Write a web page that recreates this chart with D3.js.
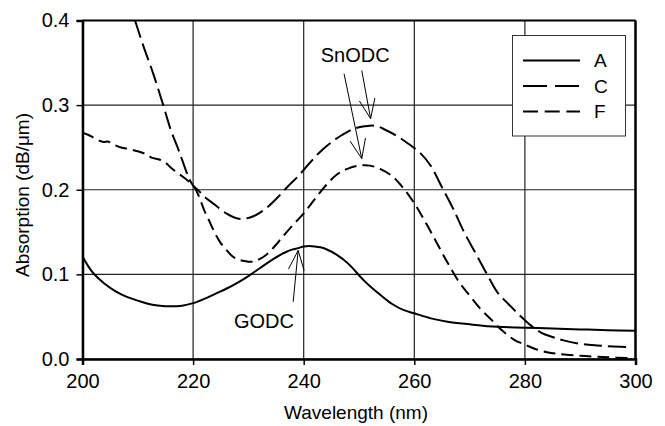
<!DOCTYPE html>
<html>
<head>
<meta charset="utf-8">
<script src="https://cdn.jsdelivr.net/npm/d3@7/dist/d3.min.js"></script>
<style>
  html, body { margin: 0; padding: 0; background: #fff; }
  svg { display: block; }
  text { font-family: "Liberation Sans", Arial, Helvetica, sans-serif; fill: #000; }
</style>
</head>
<body>
<svg id="chart" width="665" height="426"></svg>
<script>
// ---------- data ----------
const xTicks = [200, 220, 240, 260, 280, 300];
const yTicks = [0.0, 0.1, 0.2, 0.3, 0.4];
const xTickLabels = ["200", "220", "240", "260", "280", "300"];
const yTickLabels = ["0.0", "0.1", "0.2", "0.3", "0.4"];
const seriesNames = ["A", "C", "F"];

const aWave = [200,201,202,204,206,208,210,212,214,216,218,220,222,224,226,228,230,232,234,236,237,238,239,240,241,242,243,244,246,248,250,251,252,254,256,258,260,263,266,270,275,280,285,290,295,300];
const aAbs  = [0.121,0.110,0.101,0.089,0.080,0.0735,0.069,0.065,0.063,0.0623,0.063,0.066,0.071,0.077,0.083,0.090,0.098,0.107,0.116,0.124,0.127,0.1295,0.131,0.133,0.1335,0.133,0.132,0.130,0.123,0.113,0.099,0.092,0.086,0.075,0.065,0.058,0.054,0.048,0.044,0.041,0.038,0.037,0.036,0.035,0.034,0.0335];

const cWave = [209.5,211,212.8,214.6,216,217.2,218.2,219.1,220,221,222,224,226,228,229.5,231,233,235,237,239,241,243,245,247,249,251,253,255,257,259,261,263,265,267,269,271,273,275,277,279,281,283,285,287,290,293,296,299];
const cAbs  = [0.40,0.37,0.337,0.300,0.270,0.250,0.232,0.216,0.205,0.199,0.192,0.182,0.172,0.166,0.166,0.169,0.177,0.189,0.203,0.216,0.231,0.245,0.256,0.265,0.272,0.275,0.2755,0.270,0.263,0.254,0.244,0.228,0.203,0.178,0.150,0.126,0.102,0.079,0.065,0.052,0.040,0.031,0.026,0.022,0.018,0.016,0.0148,0.014];

const fWave = [200,201,202,203,203.8,204.6,205.6,207,208.5,210,211.5,212.5,214,215,216,217.6,219,220,221,222,223,224,225,226,227,228,229,230,231,232,233,234,235,236,238,240,242,244,246,248,250,252,254,256,258,260,262,264,266,268,270,272,274,276,278,280,282,284,286,290,295,299];
const fAbs  = [0.2675,0.265,0.2615,0.258,0.2565,0.257,0.2535,0.250,0.248,0.2455,0.242,0.238,0.2355,0.232,0.226,0.218,0.211,0.2053,0.193,0.176,0.162,0.148,0.137,0.129,0.122,0.118,0.116,0.115,0.1152,0.118,0.122,0.128,0.135,0.143,0.158,0.172,0.189,0.205,0.218,0.225,0.2285,0.2285,0.224,0.216,0.202,0.184,0.162,0.138,0.114,0.092,0.075,0.059,0.046,0.033,0.023,0.017,0.0115,0.008,0.006,0.0037,0.002,0.001];

// annotations in data units
const snText = {label: "SnODC", x: 249.3, y: 0.351};
const snArrows = [
  {x0: 247.3, y0: 0.337, x1: 250.5, y1: 0.2368},
  {x0: 250.5, y0: 0.341, x1: 252.1, y1: 0.284}
];
const goText = {label: "GODC", x: 232.8, y: 0.0366};
const goArrows = [
  {x0: 238.1, y0: 0.0676, x1: 239.0, y1: 0.1283}
];

// ---------- layout ----------
const svg = d3.select("#chart");
const x = d3.scaleLinear().domain([200, 300]).range([82.5, 635.5]);
const y = d3.scaleLinear().domain([0, 0.4]).range([359, 20.5]);
const FONT = 19;
const TICKFONT = 20;

// clip
svg.append("clipPath").attr("id", "clip")
  .append("rect").attr("x", x(200)).attr("y", y(0.4)).attr("width", x(300) - x(200)).attr("height", y(0) - y(0.4));

// grid lines
const grid = svg.append("g");
grid.selectAll("line.v").data(xTicks).enter().append("line")
  .attr("x1", d => x(d)).attr("x2", d => x(d)).attr("y1", y(0.4)).attr("y2", y(0))
  .attr("stroke", "#222").attr("stroke-width", 1.2);
grid.selectAll("line.h").data(yTicks).enter().append("line")
  .attr("x1", x(200)).attr("x2", x(300)).attr("y1", d => y(d)).attr("y2", d => y(d))
  .attr("stroke", "#222").attr("stroke-width", 1.2);

// axes
const xAxis = d3.axisBottom(x).tickValues(xTicks).tickSize(6).tickPadding(9)
  .tickFormat((d, i) => xTickLabels[i]);
const gx = svg.append("g").attr("transform", `translate(0,${y(0)})`).call(xAxis);
gx.select(".domain").attr("stroke", "#000").attr("stroke-width", 2.5);
gx.selectAll(".tick line").attr("stroke", "#000").attr("stroke-width", 1.5);
gx.selectAll(".tick text").attr("font-size", TICKFONT).attr("fill", "#000")
  .attr("font-family", "Liberation Sans, Arial, sans-serif");

const yAxis = d3.axisLeft(y).tickValues(yTicks).tickSize(6).tickPadding(7)
  .tickFormat((d, i) => yTickLabels[i]);
const gy = svg.append("g").attr("transform", `translate(${x(200)},0)`).call(yAxis);
gy.select(".domain").attr("stroke", "#000").attr("stroke-width", 2.5);
gy.selectAll(".tick line").attr("stroke", "#000").attr("stroke-width", 1.5);
gy.selectAll(".tick text").attr("font-size", TICKFONT).attr("fill", "#000")
  .attr("font-family", "Liberation Sans, Arial, sans-serif");

// top and right border
svg.append("line").attr("x1", x(200)).attr("x2", x(300)).attr("y1", y(0.4)).attr("y2", y(0.4))
  .attr("stroke", "#000").attr("stroke-width", 1.8);
svg.append("line").attr("x1", x(300)).attr("x2", x(300)).attr("y1", y(0.4)).attr("y2", y(0))
  .attr("stroke", "#000").attr("stroke-width", 2.5);

// axis titles
svg.append("text").attr("x", 356).attr("y", 419).attr("text-anchor", "middle")
  .attr("font-size", FONT).text("Wavelength (nm)");
svg.append("text").attr("transform", "translate(29,195) rotate(-90)").attr("text-anchor", "middle")
  .attr("font-size", FONT).text("Absorption (dB/\u03BCm)");

// curves
const line = d3.line().x(d => x(d[0])).y(d => y(d[1])).curve(d3.curveCatmullRom.alpha(0.5));
const curves = [
  {name: "A", pts: d3.zip(aWave, aAbs), dash: null, legendDash: null},
  {name: "C", pts: d3.zip(cWave, cAbs), dash: "18,6", legendDash: "24,8"},
  {name: "F", pts: d3.zip(fWave, fAbs), dash: "12,6", legendDash: "15,6.7"}
];
const gc = svg.append("g").attr("clip-path", "url(#clip)");
curves.forEach(c => {
  gc.append("path").attr("d", line(c.pts)).attr("fill", "none")
    .attr("stroke", "#000").attr("stroke-width", 2)
    .attr("stroke-dasharray", c.dash);
});

// annotations
function arrow(a) {
  const px0 = x(a.x0), py0 = y(a.y0), px1 = x(a.x1), py1 = y(a.y1);
  const ang = Math.atan2(py0 - py1, px0 - px1);
  const L = 21, h = 22 * Math.PI / 180;
  const b1 = [px1 + L * Math.cos(ang - h), py1 + L * Math.sin(ang - h)];
  const b2 = [px1 + L * Math.cos(ang + h), py1 + L * Math.sin(ang + h)];
  svg.append("path")
    .attr("d", `M${px0},${py0}L${px1},${py1}M${b1[0]},${b1[1]}L${px1},${py1}L${b2[0]},${b2[1]}`)
    .attr("fill", "none").attr("stroke", "#000").attr("stroke-width", 1);
}
snArrows.forEach(arrow);
goArrows.forEach(arrow);
[snText, goText].forEach(t => {
  svg.append("text").attr("x", x(t.x)).attr("y", y(t.y)).attr("text-anchor", "middle")
    .attr("font-size", 20).text(t.label);
});

// legend
const lg = svg.append("g");
lg.append("rect").attr("x", 512.5).attr("y", 35.5).attr("width", 113).attr("height", 100.5)
  .attr("fill", "#fff").attr("stroke", "#333").attr("stroke-width", 1);
curves.forEach((c, i) => {
  const yy = 60.5 + i * 25.5;
  lg.append("line").attr("x1", 523).attr("x2", 580).attr("y1", yy).attr("y2", yy)
    .attr("stroke", "#000").attr("stroke-width", 2).attr("stroke-dasharray", c.legendDash);
  lg.append("text").attr("x", 594).attr("y", yy + 6.8).attr("font-size", FONT).text(seriesNames[i]);
});
</script>
</body>
</html>
